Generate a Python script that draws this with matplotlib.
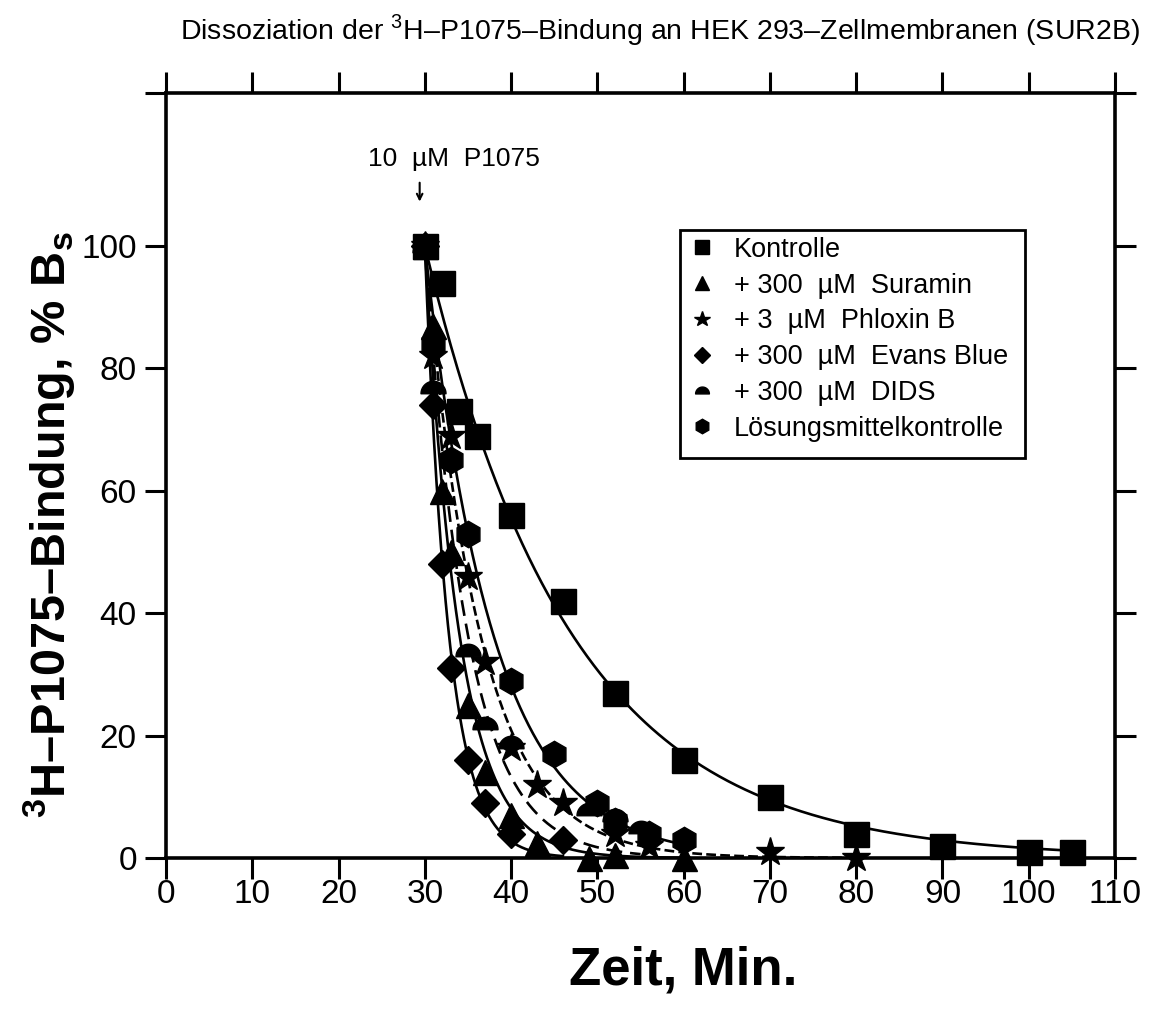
import numpy as np
import matplotlib
matplotlib.use("Agg")
import matplotlib.pyplot as plt
from matplotlib.path import Path
from matplotlib.lines import Line2D
from matplotlib.patches import Rectangle

plt.rcParams['font.family'] = ['Liberation Sans', 'DejaVu Sans']
plt.rcParams['mathtext.fontset'] = 'custom'
plt.rcParams['mathtext.rm'] = 'Liberation Sans'
plt.rcParams['mathtext.bf'] = 'Liberation Sans:bold'

# data (time in min, % of specific binding)
t_kontrolle = [30, 32, 34, 36, 40, 46, 52, 60, 70, 80, 90, 100, 105]
y_kontrolle = [100, 94, 73, 69, 56, 42, 27, 16, 10, 4, 2, 1, 1]

t_suramin = [30, 31, 32, 33, 35, 37, 40, 43, 49, 52, 60]
y_suramin = [100, 87, 60, 50, 25, 14, 7, 2.5, 0, 0.5, 0]

t_phloxin = [30, 31, 33, 35, 37, 40, 43, 46, 52, 56, 70, 80]
y_phloxin = [100, 82, 69, 46, 32, 18, 12, 9, 4, 2, 1, 0]

t_evans = [30, 31, 32, 33, 35, 37, 40, 46]
y_evans = [100, 74, 48, 31, 16, 9, 4, 3]

t_dids = [30, 31, 35, 37, 40, 49, 52, 55]
y_dids = [100, 77, 34, 22, 19, 8, 7, 5]

t_lsg = [30, 31, 33, 35, 40, 45, 50, 52, 56, 60]
y_lsg = [100, 84, 65, 53, 29, 17, 9, 6, 4, 3]

labels = ['Kontrolle', '+ 300  \u00b5M  Suramin', '+ 3  \u00b5M  Phloxin B',
          '+ 300  \u00b5M  Evans Blue', '+ 300  \u00b5M  DIDS', 'L\u00f6sungsmittelkontrolle']

# half-circle marker (DIDS)
ang = np.linspace(0, np.pi, 30)
half = Path(np.column_stack([np.cos(ang), np.sin(ang) - 0.5]).tolist() + [[1, -0.5]], closed=True)


def fit_k(t, y, t0=30.0):
    # one-phase exponential decay fitted by grid search
    t = np.asarray(t, float)
    y = np.asarray(y, float)
    ks = np.arange(0.005, 1.0, 0.0005)
    sse = [np.sum((100 * np.exp(-k * (t - t0)) - y) ** 2) for k in ks]
    return ks[int(np.argmin(sse))]


series = [
    (t_kontrolle, y_kontrolle, 's', 18, '-'),
    (t_suramin, y_suramin, '^', 18, '-'),
    (t_phloxin, y_phloxin, '*', 21, '--'),
    (t_evans, y_evans, 'D', 14, '-'),
    (t_dids, y_dids, half, 18, (0, (6, 3))),
    (t_lsg, y_lsg, 'h', 19, '-'),
]

fig = plt.figure(figsize=(11.57, 10.21), dpi=100)
ax = fig.add_axes([0.1435, 0.1596, 0.8202, 0.7493])

handles = []
for (t, y, m, ms, ls), lab in zip(series, labels):
    k = fit_k(t, y)
    tt = np.linspace(30, max(t), 300)
    ax.plot(tt, 100 * np.exp(-k * (tt - 30)), color='black', lw=1.9, ls=ls, zorder=2)
    ax.plot(t, y, ls='none', marker=m, ms=ms, color='black', zorder=3, clip_on=False)
    handles.append(Line2D([], [], ls='none', marker=m, ms=ms * 0.55, color='black', label=lab))

ax.set_xlim(0, 110)
ax.set_ylim(0, 125)
ax.set_xticks(np.arange(0, 111, 10))
ax.set_yticks(np.arange(0, 101, 20))
ax.set_yticks([125], minor=True)
ax.tick_params(axis='both', which='both', direction='out', length=15, width=2.2,
               top=True, right=True, labelsize=24)
ax.tick_params(axis='x', pad=0)
ax.tick_params(axis='y', pad=6)
ax.tick_params(axis='y', which='minor', labelleft=False, labelright=False)
for s in ax.spines.values():
    s.set_linewidth(2.6)

# legend box drawn separately so it keeps the empty space at the bottom
ax.add_patch(Rectangle((0.5416, 0.523), 0.3634, 0.298, transform=ax.transAxes,
                       fill=False, lw=2, edgecolor='black', zorder=4))
ax.legend(handles=handles, loc='upper left', bbox_to_anchor=(0.553, 0.812),
          fontsize=19.5, frameon=False, handlelength=0.8, handletextpad=0.8,
          labelspacing=0.36, borderpad=0, borderaxespad=0)

ax.annotate('', xy=(29.4, 106.8), xytext=(29.4, 110.8),
            arrowprops=dict(arrowstyle='->', color='black', lw=1.5))
ax.text(33.4, 112.3, '10  \u00b5M  P1075', ha='center', va='bottom', fontsize=19)

fig.text(683 / 1157, 1 - 970 / 1021, 'Zeit, Min.', ha='center', va='center',
         fontsize=38, fontweight='bold')
fig.text(50 / 1157, 1 - 525 / 1021, '$^{\\mathbf{3}}$H\u2013P1075\u2013Bindung, % B$_{\\mathbf{s}}$',
         ha='center', va='center', rotation=90, fontsize=35, fontweight='bold')
fig.text(660 / 1157, 1 - 30 / 1021,
         'Dissoziation der $^{3}$H\u2013P1075\u2013Bindung an HEK 293\u2013Zellmembranen (SUR2B)',
         ha='center', va='center', fontsize=20.5)

fig.savefig('out.png', dpi=100, facecolor='white')
